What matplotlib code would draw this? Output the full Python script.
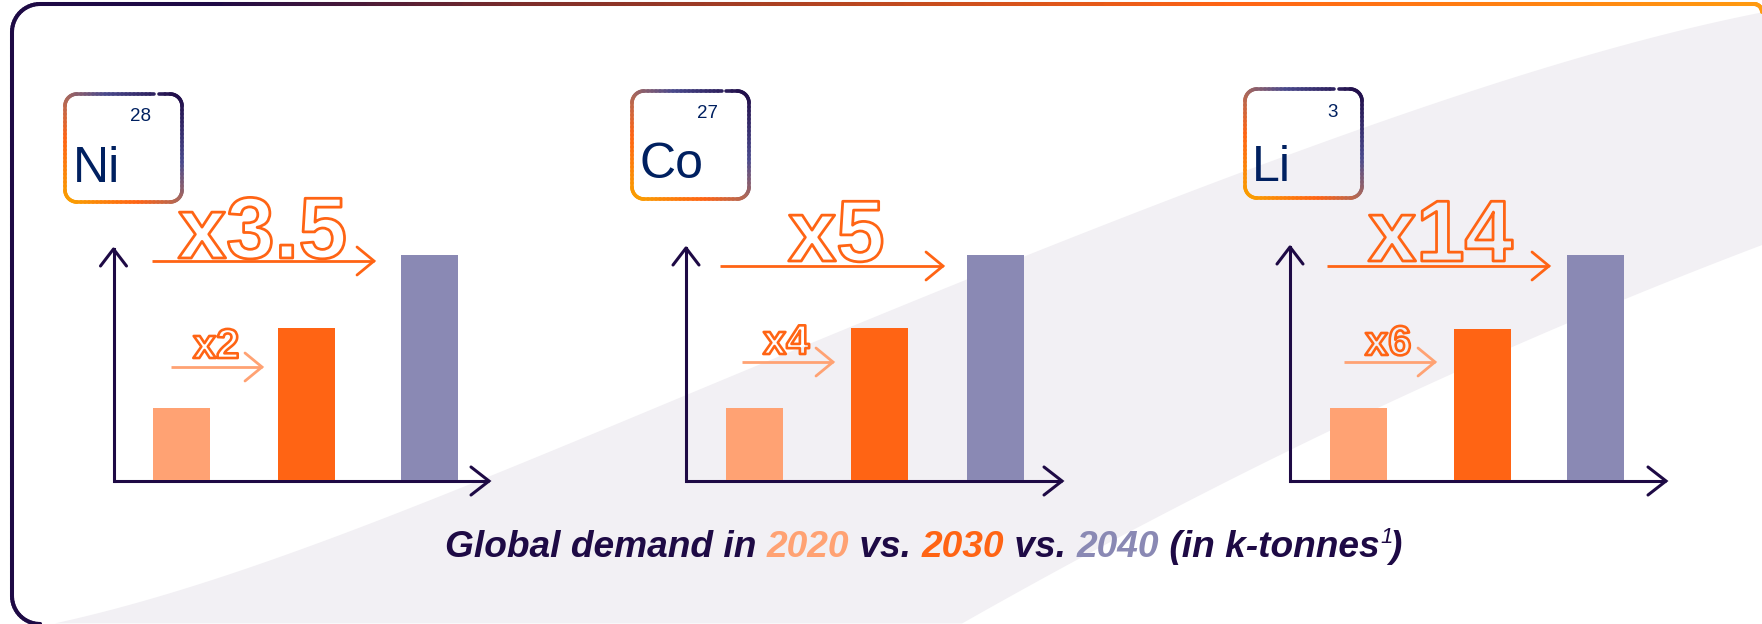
import numpy as np
import matplotlib
matplotlib.use("Agg")
import matplotlib.pyplot as plt
import matplotlib.patheffects as pe
from matplotlib.collections import LineCollection
from matplotlib.colors import LinearSegmentedColormap
from matplotlib.patches import Polygon

plt.rcParams['font.family'] = ['Liberation Sans', 'DejaVu Sans']

# data
years = ['2020', '2030', '2040']
symbols = ['Ni', 'Co', 'Li']
numbers = ['28', '27', '3']
# bar heights, 2040 = 100
ni_values = [32, 67.5, 100]
co_values = [32, 67.5, 100]
li_values = [32, 67, 100]
big_labels = ['x3.5', 'x5', 'x14']
small_labels = ['x2', 'x4', 'x6']

# colours
DARK = '#1E0A45'
NAVY = '#002060'
LIGHT_OR = '#FFA273'
ORANGE = '#FF6414'
PURPLE = '#8A89B4'
BAND = '#F2F0F4'
bar_colors = [LIGHT_OR, ORANGE, PURPLE]

# layout, all in pixels of the 1762x624 picture
W, H = 1762, 624
base_y = 480
axis_y = 481
full_h = 225
bar_w = 57
axis_x = [113.5, 686, 1290]
axis_top = [249, 248, 247]
axis_tip = [489, 1062, 1666]
bar_x = [[181.5, 306.5, 429.5], [754.5, 879.5, 995.5], [1358.5, 1482.5, 1595.5]]
boxes = [(65, 94, 182, 202), (632, 91, 749, 199), (1245, 89, 1362, 198)]
gaps = [(154, 159), (722, 726), (1334, 1339)]
symbol_xy = [(73, 182), (640, 178), (1252, 181)]
number_xy = [(130, 121), (697, 118), (1327, 117)]
big_arrow = [(152, 374, 261), (720, 943, 266), (1327, 1549, 266)]
small_arrow = [(171, 262, 367), (742, 833, 362), (1344, 1435, 362)]
big_xy = [(178, 258), (788, 261), (1368, 261)]
small_xy = [(193, 358), (763, 354), (1365, 355)]

band_top_x = [55, 286, 428, 464, 560, 750, 1023, 1120, 1200, 1361, 1560, 1762]
band_top_y = [623, 557, 500, 485, 447, 370, 257, 220, 187, 127, 65, 12]
band_low_x = [1762, 1627, 1208, 962]
band_low_y = [244, 300, 490, 624]

box_cmap = LinearSegmentedColormap.from_list('box', [(0, '#F9A200'), (0.3, ORANGE), (0.5, '#A8685E'), (0.68, '#4A4A8C'), (1, DARK)])
frame_cmap = LinearSegmentedColormap.from_list('frame', [(0, DARK), (0.12, DARK), (0.3, '#7D2D2A'), (0.7, ORANGE), (1, '#FF9A10')])


def arc(cx, cy, r, a0, a1):
    t = np.radians(np.linspace(a0, a1, 16))
    return np.column_stack([cx + r * np.cos(t), cy + r * np.sin(t)])


def gradient_line(ax, pts, colors, lw):
    segs = np.stack([pts[:-1], pts[1:]], axis=1)
    ax.add_collection(LineCollection(segs, colors=colors, linewidths=lw, capstyle='round', zorder=3))


def dense(pts, step=4):
    out = [pts[0]]
    for a, b in zip(pts[:-1], pts[1:]):
        n = max(int(np.hypot(*(b - a)) / step), 1)
        for i in range(1, n + 1):
            out.append(a + (b - a) * i / n)
    return np.array(out)


def smooth_edge(xs, ys, deg):
    xs = np.array(xs, dtype=float)
    coef = np.polyfit(xs / W, ys, deg)
    xx = np.linspace(xs.min(), xs.max(), 120)
    return xx, np.polyval(coef, xx / W)


def draw_box(ax, box, gap):
    x0, y0, x1, y1 = box
    r = 12
    pts = np.vstack([
        [[gap[1], y0]],
        arc(x1 - r, y0 + r, r, -90, 0),
        arc(x1 - r, y1 - r, r, 0, 90),
        arc(x0 + r, y1 - r, r, 90, 180),
        arc(x0 + r, y0 + r, r, 180, 270),
        [[gap[0], y0]],
    ])
    pts = dense(pts)
    mid = (pts[:-1] + pts[1:]) / 2
    t = ((mid[:, 0] - x0) / (x1 - x0) + (y1 - mid[:, 1]) / (y1 - y0)) / 2
    gradient_line(ax, pts, box_cmap(t), 2.6)


def draw_arrow(ax, x0, x1, y, color, lw, head=17, half=14):
    ax.plot([x0, x1], [y, y], color=color, lw=lw, solid_capstyle='butt', zorder=4)
    ax.plot([x1 - head, x1, x1 - head], [y - half, y, y + half], color=color, lw=lw,
            solid_capstyle='round', solid_joinstyle='miter', zorder=4)


def outline_text(ax, x, y, s, size, lw):
    ax.text(x, y, s, fontsize=size, fontweight='bold', color=(1, 1, 1, 0), ha='left', va='baseline', zorder=5,
            path_effects=[pe.Stroke(linewidth=lw, foreground=ORANGE)])


fig = plt.figure(figsize=(W / 100, H / 100), dpi=100, facecolor='white')
ax = fig.add_axes([0, 0, 1, 1])
ax.set_xlim(0, W)
ax.set_ylim(H, 0)
ax.axis('off')

# grey band behind everything
top_x, top_y = smooth_edge(band_top_x, band_top_y, 5)
low_x, low_y = smooth_edge(band_low_x, band_low_y, 2)
band = np.vstack([np.column_stack([top_x, top_y]), np.column_stack([low_x[::-1], low_y[::-1]])])
ax.add_patch(Polygon(band, closed=True, fc=BAND, ec='none', zorder=0))

# outer frame, open on the right and cut by the bottom edge
frame = np.vstack([
    [[36, 624]],
    arc(40, 596, 28, 90, 180),
    arc(40, 32, 28, 180, 270),
    [[W - 8, 4]],
    arc(W - 8, 12, 8, -90, 0),
])
frame = dense(frame, 8)
mid = (frame[:-1] + frame[1:]) / 2
gradient_line(ax, frame, frame_cmap(mid[:, 0] / W), 2.9)

values = [ni_values, co_values, li_values]
for i in range(3):
    # bars get an axes of their own, value 100 = full_h pixels
    pax = fig.add_axes([0, 1 - base_y / H, 1, full_h / H], zorder=1)
    pax.patch.set_alpha(0)
    pax.axis('off')
    pax.set_xlim(0, W)
    pax.set_ylim(0, 100)
    pax.bar(bar_x[i], values[i], width=bar_w, color=bar_colors)

    # axes arrows
    draw_arrow(ax, axis_x[i], axis_tip[i], axis_y, DARK, 2.2, head=18, half=14)
    ax.plot([axis_x[i], axis_x[i]], [axis_y, axis_top[i]], color=DARK, lw=2.2, zorder=4)
    ax.plot([axis_x[i] - 13, axis_x[i], axis_x[i] + 13], [axis_top[i] + 17, axis_top[i], axis_top[i] + 17],
            color=DARK, lw=2.2, solid_capstyle='round', zorder=4)

    # growth arrows and labels
    draw_arrow(ax, *big_arrow[i], ORANGE, 2.0)
    draw_arrow(ax, *small_arrow[i], LIGHT_OR, 2.0)
    outline_text(ax, *big_xy[i], big_labels[i], 62.5, 2.0)
    outline_text(ax, *small_xy[i], small_labels[i], 30, 1.9)

    # element tile
    draw_box(ax, boxes[i], gaps[i])
    ax.text(*symbol_xy[i], symbols[i], fontsize=36, color=NAVY, ha='left', va='baseline', zorder=5)
    ax.text(*number_xy[i], numbers[i], fontsize=13.5, color=NAVY, ha='left', va='baseline', zorder=5)

# caption, run by run so each year keeps its colour
runs = [('Global demand in ', DARK), (years[0], LIGHT_OR), (' vs. ', DARK), (years[1], ORANGE), (' vs. ', DARK),
        (years[2], PURPLE), (' (in k-tonnes', DARK)]
renderer = fig.canvas.get_renderer()
cap_size = 26.7
x = 445
for s, c in runs:
    # trailing spaces count for the width, so measure with a stop char
    probe = ax.text(0, 0, s + '|', fontsize=cap_size, fontweight='bold', style='italic')
    stop = ax.text(0, 0, '|', fontsize=cap_size, fontweight='bold', style='italic')
    adv = probe.get_window_extent(renderer).width - stop.get_window_extent(renderer).width
    probe.remove()
    stop.remove()
    ax.text(x, 557, s, fontsize=cap_size, fontweight='bold', style='italic', color=c, ha='left', va='baseline', zorder=5)
    x += adv
ax.text(x + 1, 543, '1', fontsize=16, style='italic', color=DARK, ha='left', va='baseline', zorder=5)
ax.text(x + 10, 557, ')', fontsize=cap_size, fontweight='bold', style='italic', color=DARK, ha='left', va='baseline', zorder=5)

fig.savefig('out.png', dpi=100)
